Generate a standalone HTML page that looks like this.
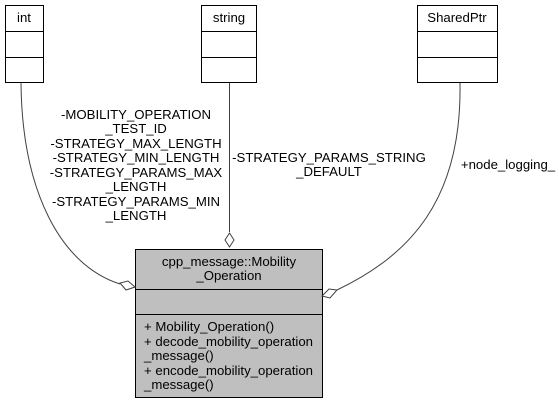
<!DOCTYPE html>
<html><head><meta charset="utf-8"><style>html,body{margin:0;padding:0;background:#fff}svg{display:block}text{font-family:"Liberation Sans",Arial,sans-serif;font-size:13.2px;fill:#000}</style></head><body>
<svg width="559" height="404" viewBox="0 0 559 404" xmlns="http://www.w3.org/2000/svg">
<g fill="#fff" stroke="#000" stroke-width="1">
<rect x="5.5" y="5.5" width="38" height="77"/><line x1="5.5" y1="31.5" x2="43.5" y2="31.5"/><line x1="5.5" y1="57.5" x2="43.5" y2="57.5"/>
<rect x="201.5" y="5.5" width="55" height="77"/><line x1="201.5" y1="31.5" x2="256.5" y2="31.5"/><line x1="201.5" y1="57.5" x2="256.5" y2="57.5"/>
<rect x="417.5" y="5.5" width="80" height="77"/><line x1="417.5" y1="31.5" x2="497.5" y2="31.5"/><line x1="417.5" y1="57.5" x2="497.5" y2="57.5"/>
<rect x="135.5" y="249.5" width="187" height="148" fill="#bfbfbf"/><line x1="135.5" y1="289.5" x2="322.5" y2="289.5"/><line x1="135.5" y1="314.5" x2="322.5" y2="314.5"/>
</g>
<g fill="none" stroke="#404040" stroke-width="1">
<path d="M21,83 C22,190 60,265 120,284"/>
<path d="M229.5,83 L229.5,232"/>
<path d="M460,83 C462,200 410,255 337,290"/>
</g>
<g fill="#fff" stroke="#404040" stroke-width="1">
<polygon points="135,287 128,281 120,283 126,290"/>
<polygon points="229.5,247 234,240 229.5,233 225,240"/>
<polygon points="322,296 330,298 337,290 329,289"/>
</g>
<text x="24" y="22" text-anchor="middle">int</text>
<text x="229" y="22" text-anchor="middle">string</text>
<text x="457" y="22" text-anchor="middle">SharedPtr</text>
<g text-anchor="middle">
<text x="136" y="119">-MOBILITY_OPERATION</text>
<text x="136" y="133">_TEST_ID</text>
<text x="136" y="148">-STRATEGY_MAX_LENGTH</text>
<text x="136" y="162">-STRATEGY_MIN_LENGTH</text>
<text x="136" y="177">-STRATEGY_PARAMS_MAX</text>
<text x="136" y="191">_LENGTH</text>
<text x="136" y="206">-STRATEGY_PARAMS_MIN</text>
<text x="136" y="220">_LENGTH</text>
<text x="329" y="162">-STRATEGY_PARAMS_STRING</text>
<text x="329" y="176">_DEFAULT</text>
<text x="508" y="169">+node_logging_</text>
<text x="229" y="266">cpp_message::Mobility</text>
<text x="229" y="280">_Operation</text>
</g>
<text x="144" y="331">+ Mobility_Operation()</text>
<text x="144" y="346">+ decode_mobility_operation</text>
<text x="144" y="360">_message()</text>
<text x="144" y="375">+ encode_mobility_operation</text>
<text x="144" y="389">_message()</text>
</svg>
</body></html>
